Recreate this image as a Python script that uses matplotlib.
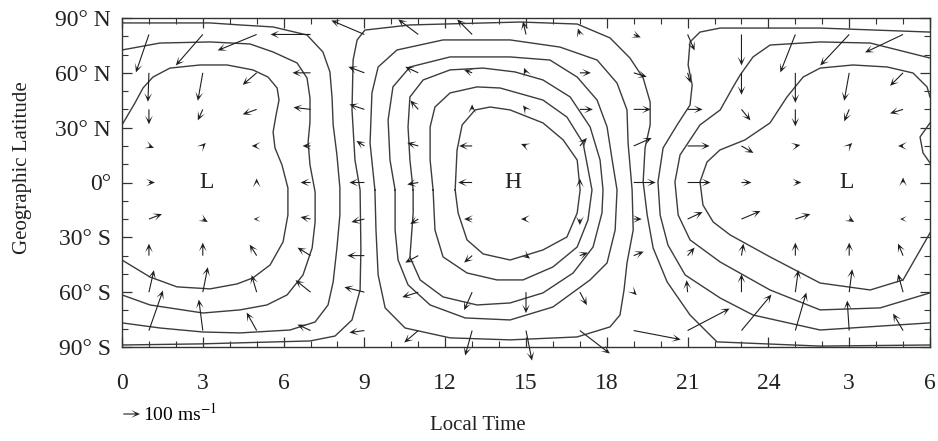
import numpy as np
import matplotlib
matplotlib.use("Agg")
import matplotlib.pyplot as plt
from matplotlib.ticker import MultipleLocator

plt.rcParams['font.family'] = ['Liberation Serif', 'DejaVu Serif']
plt.rcParams['mathtext.fontset'] = 'stix'

# ---------------- data ----------------
x_tick_values = list(range(0, 31, 3))
x_tick_labels = ['0', '3', '6', '9', '12', '15', '18', '21', '24', '3', '6']
y_tick_values = [90, 60, 30, 0, -30, -60, -90]
y_tick_labels = ['90° N', '60° N', '30° N', '0°', '30° S', '60° S', '90° S']

# contour lines (local time [h], latitude [deg])
c1_lt = [0, 0.48, 0.78, 1.15, 1.78, 2.90, 3.90, 4.86, 5.42, 5.76, 5.83, 5.72, 5.61, 5.68, 5.94, 6.16, 6.16, 5.98, 5.50, 4.86, 4.27, 3.27, 2.04, 1.04, 0.30, 0]
c1_lat = [31.5, 43.5, 51.7, 57.7, 62.6, 64.3, 64.3, 61.6, 57.7, 51.7, 45.1, 36.9, 27.6, 18.9, 9.6, -3.0, -17.8, -32.5, -45.1, -52.2, -55.5, -58.2, -57.1, -51.7, -45.1, -42.4]

c2_lt = [0, 1.41, 3.27, 4.75, 5.61, 6.50, 6.87, 6.98, 6.98, 6.91, 6.98, 7.17, 7.17, 7.06, 6.72, 6.13, 5.38, 4.38, 3.01, 1.04, 0]
c2_lat = [72.5, 76.3, 76.9, 75.8, 71.4, 65.4, 57.2, 46.2, 33.1, 22.2, 9.6, -5.2, -21.6, -35.8, -50.6, -61.5, -67.0, -69.7, -71.4, -67.0, -61.5]

c3_lt = [0, 3.27, 4.38, 5.61, 6.87, 7.46, 7.72, 7.80, 7.84, 7.98, 8.09, 8.09, 7.98, 7.84, 7.65, 7.17, 6.24, 4.38, 3.01, 1.41, 0]
c3_lat = [87.3, 87.3, 86.2, 85.1, 80.7, 71.4, 60.5, 46.2, 31.5, 15.1, -3.0, -17.8, -35.8, -54.4, -67.0, -76.3, -80.7, -82.3, -81.8, -79.6, -76.8]

s_lt = [0, 2.90, 6.98, 7.91, 8.54, 8.84, 8.87, 8.84, 8.65, 8.54, 8.58, 8.73, 9.02, 10.69, 14.78, 16.90, 18.12, 18.86, 19.35, 19.61, 19.61, 19.42, 19.35, 19.50, 19.72, 20.24, 21.09, 22.09, 25.92, 30]
s_lat = [-88.9, -88.3, -86.7, -84.0, -75.2, -58.8, -36.9, -4.1, 12.3, 39.7, 67.0, 78.0, 83.4, 86.2, 87.8, 86.7, 79.1, 68.1, 57.2, 44.0, 31.5, 18.9, 0.3, -17.8, -35.8, -54.4, -72.5, -87.2, -89.5, -88.9]

h1_lt = [12.37, 12.44, 12.63, 13.11, 13.67, 14.41, 15.63, 16.38, 16.90, 17.01, 16.90, 16.52, 15.63, 14.41, 13.41, 12.81, 12.48, 12.37]
h1_lat = [-4.1, 17.8, 31.5, 39.7, 41.3, 39.7, 32.6, 23.3, 12.3, -4.1, -16.7, -29.8, -36.9, -42.4, -39.1, -31.4, -16.7, -4.1]

h2_lt = [11.55, 11.44, 11.44, 11.62, 12.18, 13.18, 14.04, 15.63, 16.52, 17.12, 17.45, 17.30, 16.90, 16.0, 14.89, 13.92, 12.81, 11.92, 11.62, 11.55]
h2_lat = [-4.1, 12.3, 30.4, 41.3, 49.0, 52.3, 51.7, 45.1, 35.8, 21.6, -4.1, -20.5, -35.3, -46.2, -53.3, -53.3, -49.5, -40.7, -26.0, -4.1]

h3_lt = [10.81, 10.69, 10.62, 10.69, 11.18, 12.18, 13.41, 14.59, 15.63, 16.64, 17.38, 17.75, 17.86, 17.82, 17.49, 16.75, 15.63, 14.41, 13.18, 11.92, 11.07, 10.69, 10.81, 10.81]
h3_lat = [-4.1, 12.3, 30.4, 46.8, 56.1, 61.6, 62.6, 60.5, 56.1, 46.8, 30.4, 12.3, -4.1, -16.7, -35.3, -49.5, -60.4, -65.9, -67.0, -62.6, -53.3, -40.7, -16.7, -4.1]

h4_lt = [10.14, 9.95, 9.88, 10.06, 10.69, 12.18, 14.41, 15.89, 16.90, 17.64, 18.01, 18.20, 18.38, 18.31, 18.01, 17.38, 16.0, 14.41, 12.74, 11.44, 10.62, 10.25, 10.14, 10.14]
h4_lat = [-4.1, 12.3, 34.2, 52.3, 63.2, 68.7, 68.7, 67.0, 57.7, 45.1, 30.4, 12.3, -4.1, -26.0, -44.0, -53.3, -68.1, -75.2, -74.1, -67.0, -56.0, -42.4, -26.0, -4.1]

h5_lt = [9.39, 9.21, 9.28, 9.51, 10.21, 11.92, 14.41, 16.26, 17.64, 18.38, 18.75, 18.79, 18.94, 18.98, 18.75, 18.64, 18.49, 18.12, 16.90, 14.41, 12.18, 10.51, 9.77, 9.51, 9.43, 9.39]
h5_lat = [-4.1, 21.6, 49.0, 63.2, 72.5, 78.0, 78.0, 74.1, 67.0, 54.4, 39.7, 21.6, -4.1, -26.0, -44.0, -58.8, -72.5, -79.0, -84.5, -86.1, -85.0, -79.6, -68.6, -50.6, -26.0, -4.1]

r1_lt = [30, 29.89, 29.37, 28.41, 27.14, 25.92, 25.29, 24.69, 24.06, 23.13, 22.20, 21.72, 21.46, 21.57, 21.95, 22.58, 24.06, 25.92, 27.78, 29.0, 30]
r1_lat = [46.8, 52.3, 59.9, 63.2, 64.3, 62.6, 57.7, 46.8, 32.6, 23.3, 17.8, 11.2, 0.3, -12.3, -21.6, -28.7, -40.7, -55.0, -58.8, -53.3, -27.6]

r1b_lt = [30, 29.63, 29.74, 30]
r1b_lat = [32.6, 24.9, 16.2, 10.7]

r2_lt = [30, 27.78, 25.92, 24.06, 23.43, 22.95, 22.69, 22.21, 21.46, 20.72, 20.53, 20.65, 21.09, 22.21, 24.06, 25.92, 28.15, 30]
r2_lat = [68.1, 76.3, 76.9, 75.2, 68.7, 58.8, 52.3, 39.7, 31.5, 15.1, 0.3, -17.8, -31.4, -43.5, -58.8, -69.7, -68.6, -60.4]

r3_lt = [30, 25.92, 22.21, 21.46, 21.09, 21.02, 21.17, 21.09, 20.61, 20.09, 19.90, 19.98, 20.27, 20.91, 22.21, 23.43, 25.92, 30]
r3_lat = [82.3, 84.5, 84.5, 82.3, 76.9, 64.3, 53.3, 42.4, 31.5, 18.9, 0.3, -17.8, -34.2, -50.6, -63.2, -72.5, -80.7, -76.8]

# wind vectors (m/s) on grid
arrow_lt = [1, 3, 5, 7, 9, 11, 13, 15, 17, 19, 21, 23, 25, 27, 29]
arrow_lat = [81, 60, 40, 20, 0, -20, -40, -60, -81]
wind_u = [
    [-78, -162, -234, -240, -198, -120, -90, -18, -12, 42, 42, 0, -90, -174, -228],
    [-6, -30, -84, -108, -96, -78, -48, -12, 66, 78, 18, 0, 0, -30, -78],
    [0, -30, -84, -102, -90, -48, 0, -18, 78, 102, 90, 54, 0, -30, -78],
    [30, 18, -30, -48, -48, -66, -78, -30, 42, 108, 132, 72, 30, 18, -30],
    [36, 0, 0, -60, -90, -66, -84, 0, 0, 132, 138, 60, 36, 0, 0],
    [78, 30, -18, -60, -78, -48, -48, -30, 0, 48, 90, 114, 90, 30, -18],
    [0, 0, -42, -78, -102, -78, -48, 24, 48, 60, 42, 12, 0, 0, -30],
    [30, 30, -30, -90, -120, -96, -48, 0, 42, 18, -6, 0, 18, 18, -30],
    [84, -24, -60, -78, -90, -84, -42, 36, 180, 282, 252, 180, 66, -12, -60],
]
wind_v = [
    [-228, -186, -96, 0, 84, 90, 90, 78, 36, -18, -96, -186, -228, -186, -108],
    [-174, -168, -72, 0, 36, 36, 18, 30, 0, -24, -60, -132, -180, -168, -78],
    [-90, -66, -30, 12, 30, 54, 30, 24, 0, 0, 0, -66, -102, -72, -24],
    [-12, 18, 0, 0, 30, 18, 0, 12, 48, 48, 0, -42, 6, 18, 0],
    [0, 0, 24, 0, 0, -12, 0, 0, 24, 0, 0, 0, 0, 0, 30],
    [30, -18, 0, 12, -18, -30, 0, 0, -36, 0, 42, 48, 30, -18, 0],
    [72, 78, 66, 48, 0, -42, -42, -18, 18, 24, 48, 72, 78, 78, 72],
    [132, 150, 102, 72, 30, -30, -108, -126, -78, -18, 72, 108, 132, 138, 108],
    [240, 186, 108, 36, -12, -72, -150, -180, -138, -54, 132, 216, 228, 180, 102],
]
arrow_scale = 6.0  # m/s per pixel

labels_text = [('L', 3.15, 0), ('H', 14.5, 0), ('L', 26.9, 0)]

# ---------------- figure ----------------
fig = plt.figure(figsize=(9.38, 4.41), dpi=100)
ax = fig.add_axes([122 / 938, 1 - 347 / 441, 808 / 938, 329 / 441])
ax.set_xlim(0, 30)
ax.set_ylim(-90, 90)

line_color = '#3c3c3c'
contours = [(c1_lt, c1_lat), (c2_lt, c2_lat), (c3_lt, c3_lat), (s_lt, s_lat),
            (h1_lt, h1_lat), (h2_lt, h2_lat), (h3_lt, h3_lat), (h4_lt, h4_lat),
            (h5_lt, h5_lat), (r1_lt, r1_lat), (r1b_lt, r1b_lat), (r2_lt, r2_lat),
            (r3_lt, r3_lat)]
for xs, ys in contours:
    ax.plot(xs, ys, color=line_color, lw=1.0, solid_joinstyle='round')

X, Y = np.meshgrid(arrow_lt, arrow_lat)
U = np.array(wind_u, dtype=float)
V = np.array(wind_v, dtype=float)
mask = (U == 0) & (V == 0)
U = np.ma.masked_where(mask, U)
V = np.ma.masked_where(mask, V)
Q = ax.quiver(X, Y, U, V, angles='uv', scale_units='dots', scale=arrow_scale,
              pivot='tail', units='dots', width=1.1, headwidth=7,
              headlength=8, headaxislength=4, minshaft=0.45, minlength=0.5,
              color='#1e1e1e', zorder=3)
Q.set_clip_on(False)

for txt, x, y in labels_text:
    ax.text(x, y, txt, ha='center', va='center', fontsize=17, color='#222222')

ax.set_xticks(x_tick_values)
ax.set_xticklabels(x_tick_labels)
ax.set_yticks(y_tick_values)
ax.set_yticklabels(y_tick_labels)
ax.xaxis.set_minor_locator(MultipleLocator(1))
ax.yaxis.set_minor_locator(MultipleLocator(10))
ax.tick_params(which='both', direction='in', top=True, right=True,
               labelsize=17, labelcolor='#222222', color='#333333')
ax.tick_params(which='major', length=7, width=0.9)
ax.tick_params(which='minor', length=4, width=0.8)
ax.tick_params(axis='x', which='major', pad=19)
ax.tick_params(axis='y', which='major', pad=8)
for sp in ax.spines.values():
    sp.set_linewidth(1.0)
    sp.set_color('#333333')

fig.text(478 / 938, 1 - 426 / 441, 'Local Time', ha='center', va='center',
         fontsize=15, color='#222222')
fig.text(22 / 938, 1 - 168 / 441, 'Geographic Latitude', ha='center', va='center',
         rotation=90, fontsize=15, color='#222222')

ax.quiverkey(Q, 140 / 938, 1 - 414 / 441, 100, r'100 ms$^{-1}$', labelpos='E',
             coordinates='figure', labelsep=0.03,
             fontproperties={'family': 'Liberation Serif', 'size': 14})

fig.savefig('out.png', dpi=100)
